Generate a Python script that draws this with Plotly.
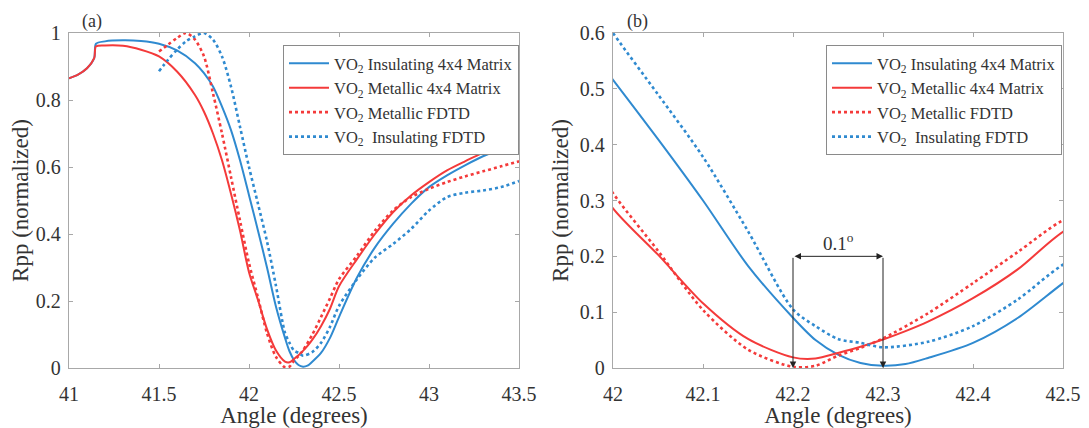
import plotly.graph_objects as go

# ---- data (angle in degrees, Rpp normalized) ----
ang_4x4 = [41.0, 41.05, 41.1, 41.14, 41.15, 41.2, 41.3, 41.4, 41.5, 41.6, 41.7, 41.75, 41.8, 41.85, 41.9, 41.95,
           42.0, 42.05, 42.1, 42.15, 42.2, 42.225, 42.25, 42.275, 42.3, 42.325, 42.35, 42.4, 42.45, 42.5,
           42.6, 42.7, 42.8, 42.9, 43.0, 43.1, 43.2, 43.3, 43.4, 43.5]
rpp_ins_4x4 = [0.865, 0.876, 0.895, 0.925, 0.968, 0.975, 0.978, 0.976, 0.968, 0.948, 0.91, 0.88, 0.84, 0.78, 0.71, 0.62,
               0.516, 0.41, 0.30, 0.183, 0.09, 0.05, 0.024, 0.009, 0.004, 0.007, 0.018, 0.045, 0.09, 0.152,
               0.27, 0.36, 0.43, 0.49, 0.54, 0.575, 0.605, 0.632, 0.652, 0.667]
rpp_met_4x4 = [0.865, 0.876, 0.895, 0.925, 0.96, 0.963, 0.962, 0.95, 0.93, 0.885, 0.815, 0.765, 0.70, 0.62, 0.52, 0.41,
               0.286, 0.203, 0.116, 0.052, 0.019, 0.017, 0.027, 0.038, 0.051, 0.066, 0.083, 0.125, 0.177, 0.244,
               0.325, 0.40, 0.465, 0.515, 0.555, 0.59, 0.617, 0.642, 0.66, 0.677]

ang_fdtd = [41.5, 41.55, 41.6, 41.65, 41.7, 41.75, 41.8, 41.85, 41.9, 41.95,
            42.0, 42.05, 42.1, 42.15, 42.2, 42.225, 42.25, 42.275, 42.3, 42.35, 42.4, 42.45, 42.5,
            42.6, 42.7, 42.8, 42.9, 43.0, 43.1, 43.2, 43.3, 43.4, 43.5]
rpp_met_fdtd = [0.945, 0.965, 0.985, 1.0, 0.98, 0.93, 0.82, 0.70, 0.57, 0.44,
                0.313, 0.21, 0.104, 0.033, 0.002, 0.004, 0.022, 0.036, 0.053, 0.098, 0.152, 0.208, 0.265,
                0.335, 0.41, 0.47, 0.51, 0.535, 0.555, 0.572, 0.587, 0.602, 0.617]
rpp_ins_fdtd = [0.886, 0.92, 0.95, 0.975, 0.99, 1.0, 0.98, 0.93, 0.84, 0.72,
                0.6, 0.49, 0.378, 0.245, 0.105, 0.075, 0.052, 0.045, 0.037, 0.047, 0.075, 0.123, 0.185,
                0.265, 0.33, 0.37, 0.415, 0.47, 0.51, 0.523, 0.53, 0.54, 0.558]

names = ["VO<sub>2</sub> Insulating 4x4 Matrix", "VO<sub>2</sub> Metallic 4x4 Matrix",
         "VO<sub>2</sub> Metallic FDTD", "VO<sub>2</sub>  Insulating FDTD"]

# tick values / labels
xa_vals = [41, 41.5, 42, 42.5, 43, 43.5]
xa_text = ["41", "41.5", "42", "42.5", "43", "43.5"]
ya_vals = [0, 0.2, 0.4, 0.6, 0.8, 1]
ya_text = ["0", "0.2", "0.4", "0.6", "0.8", "1"]
xb_vals = [42, 42.1, 42.2, 42.3, 42.4, 42.5]
xb_text = ["42", "42.1", "42.2", "42.3", "42.4", "42.5"]
yb_vals = [0, 0.1, 0.2, 0.3, 0.4, 0.5, 0.6]
yb_text = ["0", "0.1", "0.2", "0.3", "0.4", "0.5", "0.6"]
x_title = "Angle (degrees)"
y_title = "Rpp (normalized)"
gap_label = "0.1<sup>o</sup>"
gap_ends = [42.2, 42.3]
gap_level = 0.2

BLUE = "#2f8ad0"
RED = "#f43a3a"
FONT = "Times New Roman, Liberation Serif, serif"
TXT = "#333333"

# the page places the figure 8 px in from the top-left corner
W, H = 1081, 420
T, B = 25, 60
PH = H - T - B  # 335


def px(x):  # reference pixel column -> paper x
    return (x - 8) / W


def py(y):  # reference pixel row -> paper y
    return (368 - y) / PH


series = [
    (names[0], ang_4x4, rpp_ins_4x4, BLUE, "solid"),
    (names[1], ang_4x4, rpp_met_4x4, RED, "solid"),
    (names[2], ang_fdtd, rpp_met_fdtd, RED, "dot"),
    (names[3], ang_fdtd, rpp_ins_fdtd, BLUE, "dot"),
]

fig = go.Figure()
for ax, lg in (("", "legend"), ("2", "legend2")):
    for (name, xs, ys, col, dash) in series:
        w = 2 if dash == "solid" else 2.6
        fig.add_trace(go.Scatter(x=xs, y=ys, mode="lines", name=name, xaxis="x" + ax, yaxis="y" + ax,
                                 line=dict(color=col, width=w, dash=dash, shape="spline", smoothing=0.8),
                                 legend=lg))


def axis(domain, rng, vals, texts, title, anchor, standoff, tls):
    return dict(domain=domain, range=rng, tickvals=vals, ticktext=texts, anchor=anchor,
                title=dict(text=title, standoff=standoff, font=dict(family=FONT, size=23, color=TXT)),
                tickfont=dict(family=FONT, size=20, color=TXT), ticklabelstandoff=tls,
                showline=True, linecolor="#a8a8a8", linewidth=1.3, mirror="ticks", ticks="inside",
                ticklen=4, tickcolor="#a8a8a8", showgrid=False, zeroline=False, automargin=False)


legcommon = dict(y=py(45), xanchor="left", yanchor="top", bgcolor="white",
                 bordercolor="#8a8a8a", borderwidth=1, font=dict(family=FONT, size=16.5, color=TXT),
                 tracegroupgap=0, itemwidth=40)

fig.update_layout(
    width=W, height=H,
    margin=dict(l=0, r=0, t=T, b=B, autoexpand=False),
    paper_bgcolor="white", plot_bgcolor="white",
    font=dict(family=FONT, color=TXT),
    template="none",
    xaxis=axis([px(69), px(519)], [41, 43.5], xa_vals, xa_text, x_title, "y", 4, 8),
    yaxis=axis([0, 1], [0, 1], ya_vals, ya_text, y_title, "x", 4, 3),
    xaxis2=axis([px(613), px(1063)], [42, 42.5], xb_vals, xb_text, x_title, "y2", 4, 8),
    yaxis2=axis([0, 1], [0, 0.6], yb_vals, yb_text, y_title, "x2", 4, 3),
    legend=dict(x=px(283), **legcommon),
    legend2=dict(x=px(826), **legcommon),
    showlegend=True,
)

# 0.1 degree marker in panel (b)
ann_col = "#222"
for xv in gap_ends:
    fig.add_annotation(x=xv, y=0.0, ax=xv, ay=gap_level, xref="x2", yref="y2", axref="x2", ayref="y2",
                       showarrow=True, arrowhead=2, arrowsize=1.3, arrowwidth=1, arrowcolor=ann_col, text="")
fig.add_annotation(x=gap_ends[1], y=gap_level, ax=gap_ends[0], ay=gap_level, xref="x2", yref="y2",
                   axref="x2", ayref="y2", showarrow=True, arrowhead=2, arrowside="end+start",
                   arrowsize=1.3, arrowwidth=1, arrowcolor=ann_col, text="")
fig.add_annotation(x=sum(gap_ends) / 2, y=0.226, xref="x2", yref="y2", showarrow=False, text=gap_label,
                   xanchor="center", yanchor="middle", font=dict(family=FONT, size=19, color=TXT))

# panel labels (kept fully inside the figure)
fig.add_annotation(x=px(92), y=py(9), xref="paper", yref="paper", text="(a)", showarrow=False,
                   xanchor="center", yanchor="top", font=dict(family=FONT, size=18, color=TXT))
fig.add_annotation(x=px(637), y=py(9), xref="paper", yref="paper", text="(b)", showarrow=False,
                   xanchor="center", yanchor="top", font=dict(family=FONT, size=18, color=TXT))

fig.write_html("out.html")
